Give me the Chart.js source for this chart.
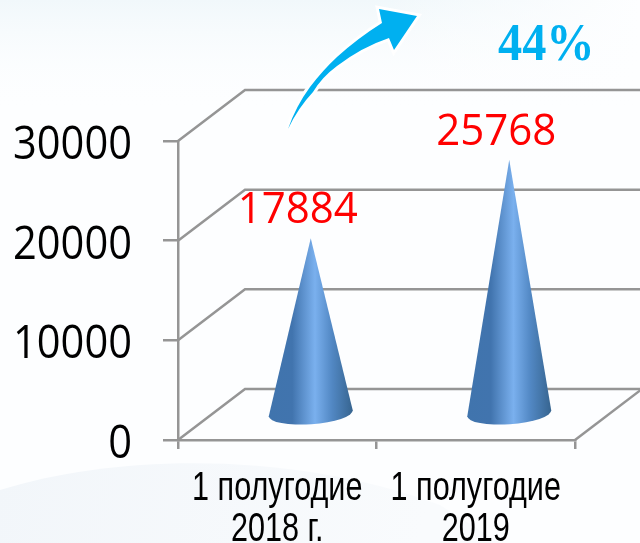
<!DOCTYPE html>
<html><head><meta charset="utf-8">
<style>html,body{margin:0;padding:0;background:#fdfeff;overflow:hidden}canvas{display:block}</style>
<script src="https://cdn.jsdelivr.net/npm/chart.js@4"></script>
</head><body><div style="width:640px;height:543px;position:relative"><canvas id="c"></canvas></div>
<script>
const categories = [["1 полугодие","2018 г."],["1 полугодие","2019"]];
const values = [17884, 25768];
const yTicks = [0,10000,20000,30000];
const changeLabel = "44%";

const DEPTH_X = 67, DEPTH_Y = 51, GRID = '#959595';

function squeezed(c,text,x,y,sx){
  c.save(); c.translate(x,y); c.scale(sx,1); c.fillText(text,0,0); c.restore();
}

const scene = {
  id:'scene',
  beforeDraw(ch){
    const c=ch.ctx; c.save();
    c.fillStyle='#fdfeff'; c.fillRect(0,0,640,543);
    let g=c.createLinearGradient(0,0,0,110);
    g.addColorStop(0,'#f1f8fb'); g.addColorStop(1,'rgba(253,254,255,0)');
    c.fillStyle=g; c.fillRect(0,0,640,110);
    g=c.createLinearGradient(0,0,640,0);
    g.addColorStop(.6,'rgba(253,254,255,0)'); g.addColorStop(1,'rgba(253,254,255,1)');
    c.fillStyle=g; c.fillRect(0,0,640,110);
    c.beginPath(); c.moveTo(0,490); c.bezierCurveTo(120,452,300,452,440,505);
    c.lineTo(500,543); c.lineTo(0,543); c.closePath();
    g=c.createLinearGradient(0,460,420,543);
    g.addColorStop(0,'#f2f6fa'); g.addColorStop(1,'#f9fbfd');
    c.fillStyle=g; c.fill();
    c.restore();
  },
  beforeDatasetsDraw(ch){
    const c=ch.ctx, y=ch.scales.y, a=ch.chartArea;
    c.save(); c.strokeStyle=GRID; c.lineWidth=2.5;
    yTicks.forEach(v=>{
      const p=y.getPixelForValue(v);
      c.beginPath(); c.moveTo(a.left,p); c.lineTo(a.left+DEPTH_X,p-DEPTH_Y); c.lineTo(640,p-DEPTH_Y); c.stroke();
    });
    c.beginPath(); c.moveTo(a.right,a.bottom); c.lineTo(a.right+DEPTH_X,a.bottom-DEPTH_Y); c.stroke();
    c.restore();
  },
  afterDatasetsDraw(ch){
    const c=ch.ctx, meta=ch.getDatasetMeta(0), x=ch.scales.x, y=ch.scales.y;
    meta.data.forEach((el,i)=>{
      const cx=el.x+DEPTH_X/2, tip=el.y-DEPTH_Y/2+2, base=el.base-DEPTH_Y/2, rx=el.width/2, ry=11, rot=-4*Math.PI/180;
      c.save();
      const g=c.createLinearGradient(cx-rx,0,cx+rx,0);
      g.addColorStop(0,'#4074ad'); g.addColorStop(.28,'#4174ae'); g.addColorStop(.55,'#7ab0ee');
      g.addColorStop(.75,'#5288c4'); g.addColorStop(1,'#36648f');
      c.fillStyle=g;
      c.beginPath();
      c.moveTo(cx,tip);
      const ex=rx*Math.cos(rot), ey=rx*Math.sin(rot);
      c.lineTo(cx+ex,base+ey);
      c.ellipse(cx,base,rx,ry,rot,0,Math.PI);
      c.closePath(); c.fill();
      c.fillStyle='#ff0000'; c.font='44px "Open Sans"'; c.textAlign='center'; c.textBaseline='alphabetic';
      squeezed(c,String(values[i]),cx-13,tip-15,.955);
      c.restore();
    });
    // axis labels, condensed like the original
    c.save();
    c.fillStyle='#000'; c.textAlign='center'; c.textBaseline='alphabetic'; c.font='40px "Liberation Sans"';
    categories.forEach((lines,i)=>{
      const px=x.getPixelForTick(i);
      lines.forEach((t,k)=>squeezed(c,t,px,500+k*41,.765));
    });
    c.textAlign='right'; c.font='45px "Open Sans"';
    yTicks.forEach(v=>squeezed(c,String(v),132,y.getPixelForValue(v)+18,.925));
    c.restore();
    // growth arrow
    c.save();
    c.beginPath();
    c.moveTo(288,129);
    c.quadraticCurveTo(296,106,310,87);
    c.quadraticCurveTo(323,70,337,57);
    c.quadraticCurveTo(358,38,382,23);
    c.lineTo(379,9); c.lineTo(417,16); c.lineTo(394,50); c.lineTo(389,38);
    c.quadraticCurveTo(362,47,337,66);
    c.quadraticCurveTo(322,77,313,92);
    c.quadraticCurveTo(298,108,288,129);
    c.closePath();
    c.strokeStyle='#ffffff'; c.lineWidth=6; c.lineJoin='miter'; c.stroke();
    c.fillStyle='#00b0f0'; c.fill();
    c.font='bold 52px "Liberation Serif"'; c.textAlign='left';
    squeezed(c,changeLabel,498,60,.93);
    c.restore();
  }
};

new Chart(document.getElementById('c'),{
  type:'bar',
  data:{labels:categories,datasets:[{data:values,backgroundColor:'rgba(0,0,0,0)',barPercentage:.424,categoryPercentage:1}]},
  plugins:[scene],
  options:{
    responsive:true,maintainAspectRatio:false,animation:false,
    layout:{autoPadding:false,padding:{top:141,right:65,left:0,bottom:0}},
    plugins:{legend:{display:false},tooltip:{enabled:false},title:{display:false}},
    scales:{
      y:{min:0,max:30000,afterFit(s){s.width=178},
        afterBuildTicks(s){s.ticks=yTicks.map(v=>({value:v}))},
        border:{color:GRID,width:2.5},
        grid:{drawOnChartArea:false,drawTicks:true,tickLength:15,color:GRID,lineWidth:2.5},
        ticks:{display:false}},
      x:{afterFit(s){s.height=103},
        border:{color:GRID,width:2.5},
        grid:{drawOnChartArea:false,drawTicks:true,tickLength:9,color:GRID,lineWidth:2.5,offset:true},
        ticks:{display:false}}
    }
  }
});
</script></body></html>
